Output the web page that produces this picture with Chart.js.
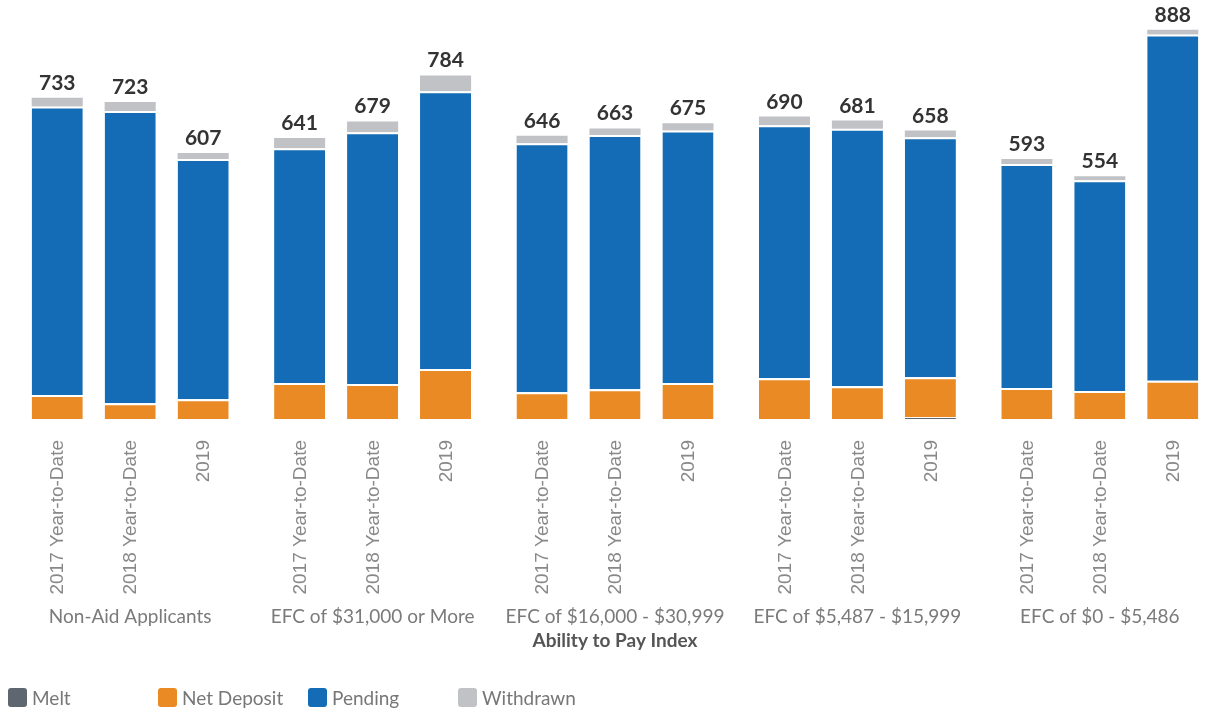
<!DOCTYPE html>
<html>
<head>
<meta charset="utf-8">
<script src="https://cdn.jsdelivr.net/npm/chart.js@4.4.1/dist/chart.umd.min.js"></script>
<style>
  html, body { margin: 0; padding: 0; background: #fff; overflow: hidden; }
  #wrap { position: relative; width: 1230px; height: 713px; }
  #legend { position: absolute; left: 0; top: 688px; font-family: Lato, sans-serif; font-size: 19px; color: #777; }
  .item { position: absolute; top: 0; display: flex; align-items: center; white-space: nowrap; line-height: 19px; }
  .swatch { width: 19px; height: 19px; border-radius: 3px; margin-right: 5px; }
</style>
</head>
<body>
<div id="wrap">
  <canvas id="chart" width="1230" height="713"></canvas>
  <div id="legend"></div>
</div>
<script>
const groups = ['Non-Aid Applicants', 'EFC of $31,000 or More', 'EFC of $16,000 - $30,999', 'EFC of $5,487 - $15,999', 'EFC of $0 - $5,486'];
const years = ['2017 Year-to-Date', '2018 Year-to-Date', '2019'];

// one value per bar: group by group, years in order inside each group
const melt       = [0, 0, 0,    0, 0, 0,      0, 0, 0,    0, 0, 4,     0, 0, 0];
const netDeposit = [55, 36, 45, 82, 80, 114,  61, 68, 82, 93, 75, 91,  71, 64, 87];
const pending    = [658, 667, 548, 536, 574, 634, 568, 580, 576, 577, 587, 548, 511, 481, 790];
const withdrawn  = [20, 20, 14, 23, 25, 36,   17, 15, 17, 20, 19, 15,  11, 9, 11];

const seriesNames = ['Melt', 'Net Deposit', 'Pending', 'Withdrawn'];
const seriesColors = ['#5e6670', '#ea8a24', '#136cb5', '#c1c2c6'];
const seriesValues = [melt, netDeposit, pending, withdrawn];

// build one stack per year, each with the four segments
const datasets = [];
years.forEach((year, j) => {
  seriesNames.forEach((name, s) => {
    datasets.push({
      label: name,
      year: year,
      stack: 'y' + j,
      data: groups.map((g, i) => seriesValues[s][i * years.length + j]),
      backgroundColor: seriesColors[s],
      borderColor: '#ffffff',
      borderWidth: name === 'Withdrawn' ? 0 : { top: 2, left: 0, right: 0, bottom: 0 },
      borderSkipped: false,
      categoryPercentage: 0.903,
      barPercentage: 0.7
    });
  });
});

const barLabels = {
  id: 'barLabels',
  afterDatasetsDraw(chart) {
    const ctx = chart.ctx;
    const base = chart.chartArea.bottom;
    chart.data.datasets.forEach((ds, di) => {
      if (ds.label !== 'Withdrawn') return;
      const meta = chart.getDatasetMeta(di);
      meta.data.forEach((bar, gi) => {
        const total = chart.data.datasets
          .filter(d => d.stack === ds.stack)
          .reduce((sum, d) => sum + d.data[gi], 0);
        ctx.save();
        ctx.font = 'bold 21px Lato';
        ctx.fillStyle = '#333333';
        ctx.textAlign = 'center';
        ctx.textBaseline = 'alphabetic';
        ctx.fillText(String(total), bar.x, bar.y - 8);
        ctx.restore();

        ctx.save();
        ctx.translate(bar.x + 1, base + 21);
        ctx.rotate(-Math.PI / 2);
        ctx.font = '19px "Liberation Sans"';
        ctx.fillStyle = '#888888';
        ctx.textAlign = 'right';
        ctx.textBaseline = 'middle';
        ctx.fillText(ds.year, 0, 0);
        ctx.restore();
      });
    });
  }
};

const chart = new Chart(document.getElementById('chart'), {
  type: 'bar',
  data: { labels: groups, datasets: datasets },
  options: {
    responsive: false,
    animation: false,
    layout: { padding: { left: 9, right: 9, top: 0, bottom: 61 } },
    scales: {
      x: {
        stacked: true,
        grid: { display: false },
        border: { display: false },
        ticks: {
          maxRotation: 0,
          autoSkip: false,
          padding: 178,
          color: '#7a7a7a',
          font: { family: 'Lato', size: 19 }
        },
        title: {
          display: true,
          text: 'Ability to Pay Index',
          color: '#555555',
          font: { family: 'Lato', size: 19, weight: 'bold' },
          padding: { top: 2, bottom: 0 }
        },
        // room for the rotated year labels, group names and the title only
        afterFit(scale) {
          scale.height = 233;
          scale.paddingLeft = 0;
          scale.paddingRight = 0;
        }
      },
      y: {
        stacked: true,
        display: false,
        min: 0,
        max: 956
      }
    },
    plugins: {
      legend: { display: false },
      tooltip: { enabled: true }
    }
  },
  plugins: [barLabels]
});

// legend laid out in fixed columns like the original
const legendEl = document.getElementById('legend');
seriesNames.forEach((name, s) => {
  const item = document.createElement('div');
  item.className = 'item';
  item.style.left = (8 + s * 150) + 'px';
  const sw = document.createElement('span');
  sw.className = 'swatch';
  sw.style.background = seriesColors[s];
  const txt = document.createElement('span');
  txt.textContent = name;
  item.appendChild(sw);
  item.appendChild(txt);
  legendEl.appendChild(item);
});
</script>
</body>
</html>
